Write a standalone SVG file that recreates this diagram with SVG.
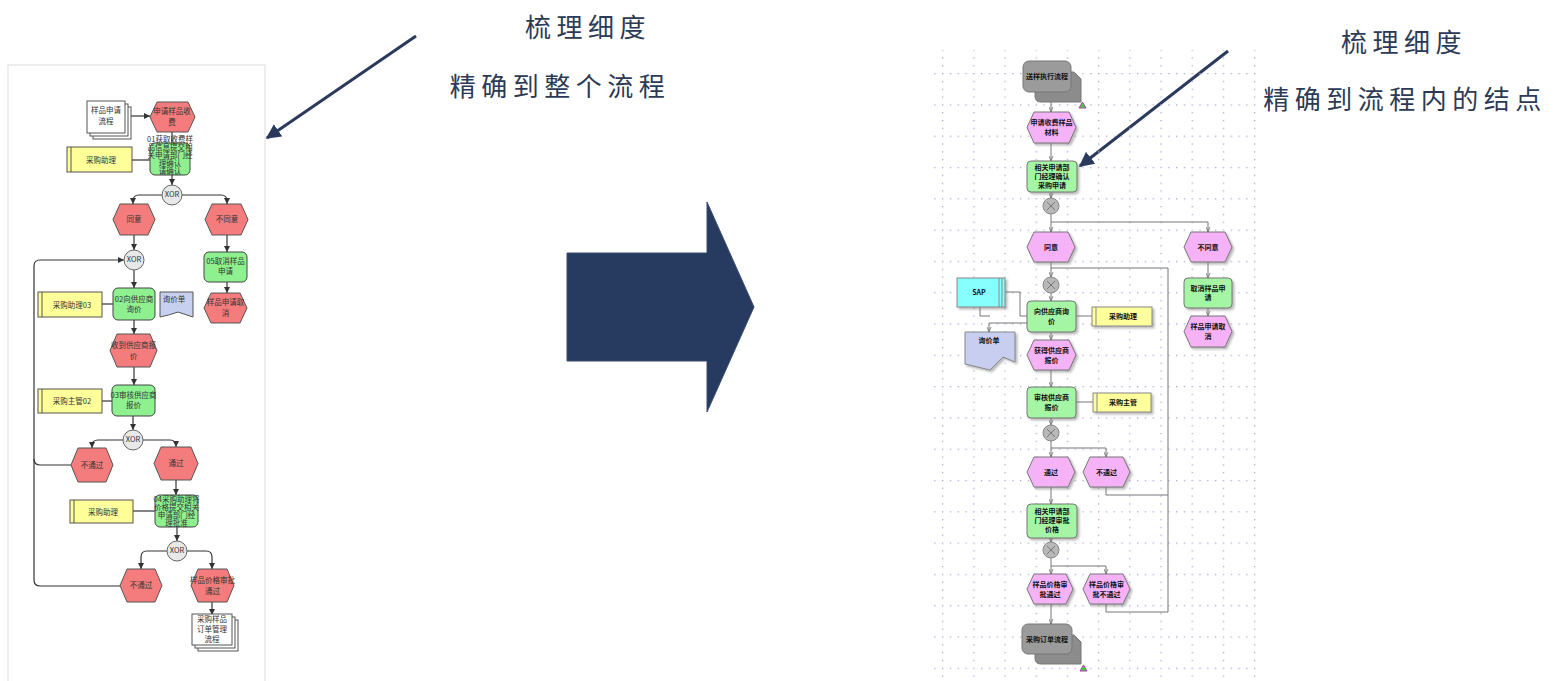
<svg xmlns="http://www.w3.org/2000/svg" width="1554" height="681" viewBox="0 0 1554 681">
<style>
.hd{font-family:"Noto Sans CJK SC","Noto Sans",sans-serif;font-size:26px;fill:#2d3a55;letter-spacing:5.5px;text-anchor:middle}
.lt{font-family:"Noto Sans CJK SC","Liberation Sans",sans-serif;font-size:7.5px;fill:#333;text-anchor:middle}
.rt{font-family:"Noto Sans CJK SC","Liberation Sans",sans-serif;font-size:7px;font-weight:bold;fill:#111;text-anchor:middle}
.lc{fill:none;stroke:#333;stroke-width:1.2}
.rc{fill:none;stroke:#777;stroke-width:1}
.lev{fill:#f47c7c;stroke:#555;stroke-width:1}
.lfn{fill:#8ef08e;stroke:#444;stroke-width:1}
.lor{fill:#ffff99;stroke:#555;stroke-width:1}
.rev{fill:#f6b2f6;stroke:#777;stroke-width:1;filter:url(#sh)}
.rfn{fill:#a4f5a4;stroke:#777;stroke-width:1;filter:url(#sh)}
.ror{fill:#ffff9c;stroke:#888;stroke-width:1;filter:url(#sh)}
.xor{fill:#e8e8e8;stroke:#666;stroke-width:1}
.rx{fill:#b8b8b8;stroke:#888;stroke-width:1}
</style>
<defs>
<marker id="al" viewBox="0 0 10 10" refX="10" refY="5" markerWidth="5" markerHeight="5" orient="auto"><path d="M0,0L10,5L0,10z" fill="#333"/></marker>
<marker id="ar" viewBox="0 0 10 10" refX="10" refY="5" markerWidth="5" markerHeight="5" orient="auto"><path d="M0,1L10,5L0,9" fill="none" stroke="#666" stroke-width="1.5"/></marker>
<marker id="ah" viewBox="0 0 10 10" refX="9" refY="5" markerWidth="5" markerHeight="5" orient="auto"><path d="M0,0L10,5L0,10z" fill="#2b3a5c"/></marker>
<filter id="sh" x="-20%" y="-20%" width="150%" height="150%"><feDropShadow dx="2" dy="2" stdDeviation="0.8" flood-color="#777" flood-opacity="0.5"/></filter>
<pattern id="grid" patternUnits="userSpaceOnUse" x="942" y="73" width="31.2" height="31.3">
<rect x="0" y="0" width="1.3" height="1.3" fill="#a8a8dc"/>
<rect x="7.8" y="0" width="1.3" height="1.3" fill="#a8a8dc"/>
<rect x="15.6" y="0" width="1.3" height="1.3" fill="#a8a8dc"/>
<rect x="23.4" y="0" width="1.3" height="1.3" fill="#a8a8dc"/>
<rect x="0" y="7.8" width="1.3" height="1.3" fill="#a8a8dc"/>
<rect x="0" y="15.6" width="1.3" height="1.3" fill="#a8a8dc"/>
<rect x="0" y="23.4" width="1.3" height="1.3" fill="#a8a8dc"/>
</pattern>
</defs>
<rect width="1554" height="681" fill="#fff"/>

<!-- headings -->
<g id="head-left">
<text class="hd" x="588" y="37">梳理细度</text>
<text class="hd" x="560" y="96">精确到整个流程</text>
</g>
<g id="head-right">
<text class="hd" x="1404" y="52">梳理细度</text>
<text class="hd" x="1405" y="109">精确到流程内的结点</text>
</g>
<g id="pointers">
<line x1="416" y1="36" x2="267" y2="138" stroke="#2b3a5c" stroke-width="3" marker-end="url(#ah)"/>
<line x1="1228" y1="51" x2="1080" y2="166" stroke="#2b3a5c" stroke-width="3" marker-end="url(#ah)"/>
</g>
<g id="big-arrow">
<polygon points="567,253 707,253 707,202 754,307 707,412 707,361 567,361" fill="#273a5f" stroke="#3a4c70" stroke-width="1"/>
</g>

<!-- LEFT DIAGRAM -->
<rect x="8" y="65" width="257" height="620" fill="#fff" stroke="#ddd" stroke-width="1"/>
<g id="left-connectors">
<path class="lc" d="M130,116H150" marker-end="url(#al)"/>
<path class="lc" d="M172,132V143"/>
<path class="lc" d="M132,160H150"/>
<path class="lc" d="M172,175V185" marker-end="url(#al)"/>
<path class="lc" d="M162,195H139Q133,195 133,201V204" marker-end="url(#al)"/>
<path class="lc" d="M182,195H221Q227,195 227,201V204" marker-end="url(#al)"/>
<path class="lc" d="M134,235V250" marker-end="url(#al)"/>
<path class="lc" d="M227,235V252" marker-end="url(#al)"/>
<path class="lc" d="M227,282V293" marker-end="url(#al)"/>
<path class="lc" d="M134,270V288" marker-end="url(#al)"/>
<path class="lc" d="M102,304H113"/>
<path class="lc" d="M134,320V334" marker-end="url(#al)"/>
<path class="lc" d="M134,367V385" marker-end="url(#al)"/>
<path class="lc" d="M102,401H112"/>
<path class="lc" d="M133,416V430" marker-end="url(#al)"/>
<path class="lc" d="M123,440H98Q92,440 92,446V448" marker-end="url(#al)"/>
<path class="lc" d="M143,440H170Q176,440 176,446V447" marker-end="url(#al)"/>
<path class="lc" d="M176,480V495" marker-end="url(#al)"/>
<path class="lc" d="M133,511H155"/>
<path class="lc" d="M177,527V541" marker-end="url(#al)"/>
<path class="lc" d="M167,551H147Q141,551 141,557V569" marker-end="url(#al)"/>
<path class="lc" d="M187,551H206Q212,551 212,557V569" marker-end="url(#al)"/>
<path class="lc" d="M212,602V615" marker-end="url(#al)"/>
<path class="lc" d="M120,586H40Q34,586 34,580V266Q34,260 40,260H124" marker-end="url(#al)"/>
<path class="lc" d="M71,465H40Q34,465 34,459"/>
</g>
<g id="l-doc-start">
<rect x="93" y="107" width="38" height="32" fill="#fff" stroke="#555"/>
<rect x="90" y="104" width="38" height="32" fill="#fff" stroke="#555"/>
<rect x="87" y="101" width="38" height="32" fill="#fff" stroke="#555"/>
<text class="lt" x="106" y="113">样品申请</text><text class="lt" x="106" y="124">流程</text>
</g>
<g id="l-ev1"><polygon class="lev" points="157,102 188,102 195,117 188,132 157,132 150,117"/><text class="lt" x="172" y="114">申请样品收</text><text class="lt" x="172" y="125">费</text></g>
<g id="l-fn1"><rect class="lfn" x="150" y="143" width="40" height="32" rx="5"/>
<text class="lt" x="170" y="142" font-size="5.5">01获取收费样</text><text class="lt" x="170" y="150" font-size="5.5">品信息提交相</text><text class="lt" x="170" y="158" font-size="5.5">关申请部门经</text><text class="lt" x="170" y="166" font-size="5.5">理确认</text><text class="lt" x="170" y="174" font-size="5.5">请确认</text></g>
<g id="l-or1"><rect class="lor" x="67" y="147" width="65" height="25"/><line x1="71" y1="147" x2="71" y2="172" stroke="#555"/><text class="lt" x="101" y="163" font-size="9">采购助理</text></g>
<g id="l-x1"><circle class="xor" cx="172" cy="195" r="10"/><text class="lt" x="172" y="197" font-size="5">XOR</text></g>
<g id="l-ev2"><polygon class="lev" points="120,204 148,204 155,219.5 148,235 120,235 113,219.5"/><text class="lt" x="134" y="222">同意</text></g>
<g id="l-ev3"><polygon class="lev" points="212,204 241,204 248,219.5 241,235 212,235 205,219.5"/><text class="lt" x="227" y="222">不同意</text></g>
<g id="l-x2"><circle class="xor" cx="134" cy="260" r="10"/><text class="lt" x="134" y="262" font-size="5">XOR</text></g>
<g id="l-fn5"><rect class="lfn" x="204" y="252" width="43" height="30" rx="5"/><text class="lt" x="225.5" y="264">05取消样品</text><text class="lt" x="225.5" y="274">申请</text></g>
<g id="l-ev4"><polygon class="lev" points="211,293 240,293 247,308 240,323 211,323 204,308"/><text class="lt" x="225.5" y="305">样品申请取</text><text class="lt" x="225.5" y="316">消</text></g>
<g id="l-fn2"><rect class="lfn" x="113" y="288" width="42" height="32" rx="5"/><text class="lt" x="134" y="302">02向供应商</text><text class="lt" x="134" y="312">询价</text></g>
<g id="l-or2"><rect class="lor" x="38" y="292" width="64" height="25"/><line x1="42" y1="292" x2="42" y2="317" stroke="#555"/><text class="lt" x="72" y="308" font-size="9">采购助理03</text></g>
<g id="l-doc1"><path d="M160,292H193V317L178,312Q170,315 160,317Z" fill="#c8d0f0" stroke="#555"/><text class="lt" x="174" y="302">询价单</text></g>
<g id="l-ev5"><polygon class="lev" points="117,334 150,334 157,350.5 150,367 117,367 110,350.5"/><text class="lt" x="133.5" y="348">收到供应商报</text><text class="lt" x="133.5" y="359">价</text></g>
<g id="l-fn3"><rect class="lfn" x="112" y="385" width="43" height="31" rx="5"/><text class="lt" x="133.5" y="398">03审核供应商</text><text class="lt" x="133.5" y="408">报价</text></g>
<g id="l-or3"><rect class="lor" x="38" y="389" width="64" height="24"/><line x1="42" y1="389" x2="42" y2="413" stroke="#555"/><text class="lt" x="72" y="404" font-size="9">采购主管02</text></g>
<g id="l-x3"><circle class="xor" cx="133" cy="440" r="10"/><text class="lt" x="133" y="442" font-size="5">XOR</text></g>
<g id="l-ev6"><polygon class="lev" points="78,448 106,448 113,465 106,482 78,482 71,465"/><text class="lt" x="92" y="468">不通过</text></g>
<g id="l-ev7"><polygon class="lev" points="161,447 191,447 198,463.5 191,480 161,480 154,463.5"/><text class="lt" x="176" y="466">通过</text></g>
<g id="l-fn4"><rect class="lfn" x="155" y="495" width="43" height="32" rx="5"/>
<text class="lt" x="176.5" y="502" font-size="5.5">04采购助理将</text><text class="lt" x="176.5" y="510" font-size="5.5">价格提交相关</text><text class="lt" x="176.5" y="518" font-size="5.5">申请部门经</text><text class="lt" x="176.5" y="526" font-size="5.5">理批准</text></g>
<g id="l-or4"><rect class="lor" x="70" y="500" width="63" height="23"/><line x1="74" y1="500" x2="74" y2="523" stroke="#555"/><text class="lt" x="103" y="515" font-size="9">采购助理</text></g>
<g id="l-x4"><circle class="xor" cx="177" cy="551" r="10"/><text class="lt" x="177" y="553" font-size="5">XOR</text></g>
<g id="l-ev8"><polygon class="lev" points="127,569 155,569 162,585.5 155,602 127,602 120,585.5"/><text class="lt" x="141" y="588">不通过</text></g>
<g id="l-ev9"><polygon class="lev" points="198,569 227,569 234,585.5 227,602 198,602 191,585.5"/><text class="lt" x="212.5" y="583">样品价格审批</text><text class="lt" x="212.5" y="594">通过</text></g>
<g id="l-doc-end">
<rect x="198" y="620" width="40" height="31" fill="#fff" stroke="#555"/>
<rect x="195" y="617" width="40" height="31" fill="#fff" stroke="#555"/>
<rect x="192" y="614" width="40" height="31" fill="#fff" stroke="#555"/>
<text class="lt" x="212" y="622">采购样品</text><text class="lt" x="212" y="632">订单管理</text><text class="lt" x="212" y="642">流程</text>
</g>

<!-- RIGHT DIAGRAM -->
<rect x="933" y="50" width="326" height="631" fill="url(#grid)"/>
<g id="right-connectors">
<path class="rc" d="M1051,92V112" marker-end="url(#ar)"/>
<path class="rc" d="M1051,143V161" marker-end="url(#ar)"/>
<path class="rc" d="M1051,192V198" marker-end="url(#ar)"/>
<path class="rc" d="M1051,214V232" marker-end="url(#ar)"/>
<path class="rc" d="M1051,222H1208V232" marker-end="url(#ar)"/>
<path class="rc" d="M1051,262V277" marker-end="url(#ar)"/>
<path class="rc" d="M1168,612V268H1051"/>
<path class="rc" d="M1051,293V301" marker-end="url(#ar)"/>
<path class="rc" d="M1076,316H1092"/>
<path class="rc" d="M1005,292H1020V316H1027"/>
<path class="rc" d="M980,307V316H990"/>
<path class="rc" d="M1027,323H989V332" marker-end="url(#ar)"/>
<path class="rc" d="M1051,332V340" marker-end="url(#ar)"/>
<path class="rc" d="M1051,370V387" marker-end="url(#ar)"/>
<path class="rc" d="M1076,402H1093"/>
<path class="rc" d="M1051,418V425" marker-end="url(#ar)"/>
<path class="rc" d="M1051,441V457" marker-end="url(#ar)"/>
<path class="rc" d="M1051,448H1106V457" marker-end="url(#ar)"/>
<path class="rc" d="M1106,487V495H1168"/>
<path class="rc" d="M1051,487V504" marker-end="url(#ar)"/>
<path class="rc" d="M1051,538V542" marker-end="url(#ar)"/>
<path class="rc" d="M1051,558V574" marker-end="url(#ar)"/>
<path class="rc" d="M1051,566H1106V574" marker-end="url(#ar)"/>
<path class="rc" d="M1106,604V612H1168"/>
<path class="rc" d="M1051,604V624" marker-end="url(#ar)"/>
<path class="rc" d="M1208,262V278" marker-end="url(#ar)"/>
<path class="rc" d="M1208,308V316" marker-end="url(#ar)"/>
</g>
<g id="r-start">
<path d="M1041,72H1074L1081,79V102H1041Q1035,102 1035,96V78Q1035,72 1041,72Z" fill="#8c8c8c" stroke="#777"/>
<rect x="1023" y="61" width="48" height="31" rx="6" fill="#9b9b9b" stroke="#777"/>
<text class="rt" x="1047" y="79">送样执行流程</text>
<polygon points="1079,108 1082.5,102 1086,108" fill="#4c4" stroke="#a4a"/>
</g>
<g id="r-ev1"><polygon class="rev" points="1034,112 1069,112 1076,127.5 1069,143 1034,143 1027,127.5"/><text class="rt" x="1051.5" y="125">申请收费样品</text><text class="rt" x="1051.5" y="135">材料</text></g>
<g id="r-fn1"><rect class="rfn" x="1027" y="161" width="50" height="31" rx="4"/><text class="rt" x="1052" y="170">相关申请部</text><text class="rt" x="1052" y="179">门经理确认</text><text class="rt" x="1052" y="188">采购申请</text></g>
<g id="r-x1"><circle class="rx" cx="1051" cy="206" r="8"/><path d="M1047,202L1055,210M1055,202L1047,210" stroke="#777"/></g>
<g id="r-ev2"><polygon class="rev" points="1034,232 1068,232 1075,247 1068,262 1034,262 1027,247"/><text class="rt" x="1051" y="250">同意</text></g>
<g id="r-ev3"><polygon class="rev" points="1191,232 1225,232 1232,247 1225,262 1191,262 1184,247"/><text class="rt" x="1208" y="250">不同意</text></g>
<g id="r-x2"><circle class="rx" cx="1051" cy="285" r="8"/><path d="M1047,281L1055,289M1055,281L1047,289" stroke="#777"/></g>
<g id="r-fn6"><rect class="rfn" x="1184" y="278" width="48" height="30" rx="4"/><text class="rt" x="1208" y="291">取消样品申</text><text class="rt" x="1208" y="300">请</text></g>
<g id="r-ev4"><polygon class="rev" points="1191,316 1225,316 1232,331.5 1225,347 1191,347 1184,331.5"/><text class="rt" x="1208" y="329">样品申请取</text><text class="rt" x="1208" y="339">消</text></g>
<g id="r-sap"><rect x="957" y="278" width="48" height="29" fill="#88ffff" stroke="#888" filter="url(#sh)"/><line x1="999" y1="278" x2="999" y2="307" stroke="#888"/><line x1="1002" y1="278" x2="1002" y2="307" stroke="#888"/><text class="rt" x="979" y="295">SAP</text></g>
<g id="r-fn2"><rect class="rfn" x="1027" y="301" width="49" height="31" rx="4"/><text class="rt" x="1051.5" y="314">向供应商询</text><text class="rt" x="1051.5" y="324">价</text></g>
<g id="r-or1"><rect class="ror" x="1092" y="307" width="60" height="19"/><line x1="1096" y1="307" x2="1096" y2="326" stroke="#888"/><text class="rt" x="1123" y="319">采购助理</text></g>
<g id="r-doc"><path d="M965,332H1015V362L1003,357L990,370L965,364Z" fill="#c8cef0" stroke="#888" filter="url(#sh)"/><text class="rt" x="989" y="343">询价单</text></g>
<g id="r-ev5"><polygon class="rev" points="1034,340 1069,340 1076,355 1069,370 1034,370 1027,355"/><text class="rt" x="1051.5" y="353">获得供应商</text><text class="rt" x="1051.5" y="363">报价</text></g>
<g id="r-fn3"><rect class="rfn" x="1027" y="387" width="49" height="31" rx="4"/><text class="rt" x="1051.5" y="400">审核供应商</text><text class="rt" x="1051.5" y="410">报价</text></g>
<g id="r-or2"><rect class="ror" x="1093" y="393" width="58" height="19"/><line x1="1097" y1="393" x2="1097" y2="412" stroke="#888"/><text class="rt" x="1123" y="405">采购主管</text></g>
<g id="r-x3"><circle class="rx" cx="1051" cy="433" r="8"/><path d="M1047,429L1055,437M1055,429L1047,437" stroke="#777"/></g>
<g id="r-ev6"><polygon class="rev" points="1034,457 1068,457 1075,472 1068,487 1034,487 1027,472"/><text class="rt" x="1051" y="475">通过</text></g>
<g id="r-ev7"><polygon class="rev" points="1090,457 1123,457 1130,472 1123,487 1090,487 1083,472"/><text class="rt" x="1106.5" y="475">不通过</text></g>
<g id="r-fn4"><rect class="rfn" x="1027" y="504" width="50" height="34" rx="4"/><text class="rt" x="1052" y="514">相关申请部</text><text class="rt" x="1052" y="523">门经理审批</text><text class="rt" x="1052" y="532">价格</text></g>
<g id="r-x4"><circle class="rx" cx="1051" cy="550" r="8"/><path d="M1047,546L1055,554M1055,546L1047,554" stroke="#777"/></g>
<g id="r-ev8"><polygon class="rev" points="1034,574 1066,574 1073,589 1066,604 1034,604 1027,589"/><text class="rt" x="1050" y="587">样品价格审</text><text class="rt" x="1050" y="597">批通过</text></g>
<g id="r-ev9"><polygon class="rev" points="1090,574 1123,574 1130,589 1123,604 1090,604 1083,589"/><text class="rt" x="1106.5" y="587">样品价格审</text><text class="rt" x="1106.5" y="597">批不通过</text></g>
<g id="r-end">
<path d="M1041,635H1074L1081,642V664H1041Q1035,664 1035,658V641Q1035,635 1041,635Z" fill="#8c8c8c" stroke="#777"/>
<rect x="1022" y="624" width="50" height="30" rx="6" fill="#9b9b9b" stroke="#777"/>
<text class="rt" x="1047" y="642">采购订单流程</text>
<polygon points="1080,671 1083.5,665 1087,671" fill="#4c4" stroke="#a4a"/>
</g>
</svg>
